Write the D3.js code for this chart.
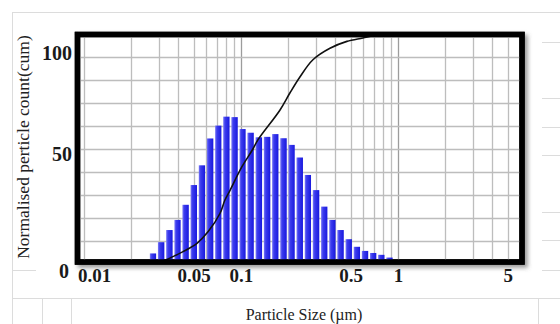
<!DOCTYPE html>
<html>
<head>
<meta charset="utf-8">
<script src="https://cdn.jsdelivr.net/npm/d3@7/dist/d3.min.js"></script>
<style>
  body { margin: 0; background: #fff; }
  svg { display: block; }
</style>
</head>
<body>
<div id="chart"></div>
<script>
// bin edges of the size histogram (um), one more than the bars
var sizeEdges = [0.0263, 0.0296, 0.0334, 0.0377, 0.0424, 0.0478, 0.0539, 0.0607, 0.0685, 0.0771,
                 0.0869, 0.098, 0.110, 0.124, 0.140, 0.158, 0.178, 0.201, 0.226, 0.255,
                 0.287, 0.324, 0.365, 0.411, 0.464, 0.523, 0.589, 0.664, 0.748, 0.843, 0.950];
// normalised count per bin
var counts = [4.6, 9.5, 14.8, 19.2, 25.8, 34.4, 43, 54.7, 60.3, 64.2,
              64, 58.8, 57.2, 55.2, 55.4, 56.6, 54.8, 51.9, 46.4, 38.8,
              32.2, 25, 19.2, 14.8, 10.8, 7.5, 5.7, 4.8, 4.0, 2.8];
// cumulative curve
var cumSize = [0.0305, 0.0338, 0.0428, 0.0525, 0.0617, 0.0735, 0.0791, 0.0851, 0.1015, 0.119,
               0.128, 0.177, 0.205, 0.2375, 0.2875, 0.369, 0.473, 0.598, 0.693, 0.768];
var cumPct = [0.5, 2, 5.4, 9, 14, 22, 27.9, 32, 42.4, 50,
              54, 67, 74.5, 81.5, 89, 94, 97, 98.5, 99.5, 100];
// tick labels
var xTicks = [0.01, 0.05, 0.1, 0.5, 1, 5];
var yTicks = [0, 50, 100];
var xGrid = [0.01, 0.02, 0.03, 0.04, 0.05, 0.06, 0.07, 0.08, 0.09,
             0.1, 0.2, 0.3, 0.4, 0.5, 0.6, 0.7, 0.8, 0.9,
             1, 2, 3, 4, 5, 6];
var yGrid = [10, 20, 30, 40, 50, 60, 70, 80, 90];

var W = 560, H = 324;
var box = {left: 77.5, top: 34.5, right: 522, bottom: 262};

var svg = d3.select("#chart").append("svg")
    .attr("width", W)
    .attr("height", H);

// page table lines behind the chart
var page = svg.append("g")
    .attr("stroke", "#dcdcdc")
    .attr("stroke-width", 1)
    .attr("fill", "none");
page.append("line").attr("x1", 12).attr("x2", W).attr("y1", 12.5).attr("y2", 12.5);
page.append("line").attr("x1", 12.5).attr("x2", 12.5).attr("y1", 12).attr("y2", H);
page.append("line").attr("x1", 12).attr("x2", W).attr("y1", 298.5).attr("y2", 298.5);
page.append("line").attr("x1", 42.5).attr("x2", 42.5).attr("y1", 298).attr("y2", H);
page.append("line").attr("x1", 71.5).attr("x2", 71.5).attr("y1", 298).attr("y2", H);
page.append("line").attr("x1", 538.5).attr("x2", 538.5).attr("y1", 298).attr("y2", H);
page.append("line").attr("x1", 12).attr("x2", 36).attr("y1", 270.5).attr("y2", 270.5);
[42, 98, 127, 155, 212, 240, 270].forEach(function(yy) {
    page.append("line").attr("x1", 542).attr("x2", W).attr("y1", yy + 0.5).attr("y2", yy + 0.5);
});

// scales
var x = d3.scaleLog().domain([0.0091, 6.17]).range([box.left, box.right]);
var y = d3.scaleLinear().domain([0, 100]).range([264, box.top]);

var defs = svg.append("defs");
var shadow = defs.append("filter").attr("id", "shadow")
    .attr("x", "-5%").attr("y", "-5%").attr("width", "115%").attr("height", "120%");
shadow.append("feDropShadow")
    .attr("dx", 3).attr("dy", 3).attr("stdDeviation", 2)
    .attr("flood-color", "#555").attr("flood-opacity", 0.6);

var grad = defs.append("linearGradient").attr("id", "barFill")
    .attr("x1", "0%").attr("x2", "100%").attr("y1", "0%").attr("y2", "0%");
grad.append("stop").attr("offset", "0%").attr("stop-color", "#7a7af6");
grad.append("stop").attr("offset", "30%").attr("stop-color", "#3c3cee");
grad.append("stop").attr("offset", "100%").attr("stop-color", "#1818de");

defs.append("clipPath").attr("id", "plotClip")
    .append("rect")
    .attr("x", box.left).attr("y", box.top)
    .attr("width", box.right - box.left).attr("height", box.bottom - box.top);

// white plot area with shadow
svg.append("rect")
    .attr("x", box.left).attr("y", box.top)
    .attr("width", box.right - box.left).attr("height", box.bottom - box.top)
    .attr("fill", "#fff")
    .attr("stroke", "#000")
    .attr("stroke-width", 5.5)
    .attr("filter", "url(#shadow)");

var plot = svg.append("g").attr("clip-path", "url(#plotClip)");

// grid
plot.selectAll(".vgrid")
    .data(xGrid)
    .enter().append("line")
    .attr("class", "vgrid")
    .attr("x1", function(d) { return Math.round(x(d)) + 0.5; })
    .attr("x2", function(d) { return Math.round(x(d)) + 0.5; })
    .attr("y1", box.top).attr("y2", box.bottom)
    .attr("stroke", function(d) { return (d === 0.1 || d === 1) ? "#9c9c9c" : "#bdbdbd"; })
    .attr("stroke-width", 1.3);

plot.selectAll(".hgrid")
    .data(yGrid)
    .enter().append("line")
    .attr("class", "hgrid")
    .attr("x1", box.left).attr("x2", box.right)
    .attr("y1", function(d) { return Math.round(y(d)) + 0.5; })
    .attr("y2", function(d) { return Math.round(y(d)) + 0.5; })
    .attr("stroke", "#bdbdbd")
    .attr("stroke-width", 1.3);

// histogram bars
plot.selectAll(".bar")
    .data(counts)
    .enter().append("rect")
    .attr("class", "bar")
    .attr("x", function(d, i) { return x(sizeEdges[i]); })
    .attr("width", function(d, i) { return x(sizeEdges[i + 1]) - x(sizeEdges[i]) - 1.8; })
    .attr("y", function(d) { return y(d); })
    .attr("height", function(d) { return y(0) - y(d); })
    .attr("fill", "url(#barFill)");

// cumulative curve
var line = d3.line()
    .x(function(d, i) { return x(cumSize[i]); })
    .y(function(d) { return y(d); })
    .curve(d3.curveCatmullRom.alpha(0.5));

plot.append("path")
    .datum(cumPct)
    .attr("d", line)
    .attr("fill", "none")
    .attr("stroke", "#111")
    .attr("stroke-width", 1.6);

// frame on top
svg.append("rect")
    .attr("x", box.left).attr("y", box.top)
    .attr("width", box.right - box.left).attr("height", box.bottom - box.top)
    .attr("fill", "none")
    .attr("stroke", "#000")
    .attr("stroke-width", 5.5);

// x tick labels
var xAxis = d3.axisBottom(x)
    .tickValues(xTicks)
    .tickSize(0)
    .tickFormat(d3.format("~g"));

var gx = svg.append("g")
    .attr("transform", "translate(0," + 266 + ")")
    .call(xAxis);
gx.select(".domain").remove();
gx.selectAll("text")
    .attr("dy", null)
    .attr("y", 16)
    .style("font-family", "'Liberation Serif', serif")
    .style("font-weight", "bold")
    .style("font-size", "19px")
    .attr("fill", "#1a1a1a");
// first label starts at the frame instead of centring on it
gx.selectAll(".tick").filter(function(d) { return d === xTicks[0]; })
    .select("text")
    .attr("text-anchor", "start")
    .attr("x", box.left - x(xTicks[0]));

// y tick labels (placed like the original labels, left of the frame)
var yLabel = d3.scaleLinear().domain([0, 50, 100]).range([271, 154, 53]);
svg.selectAll(".ylab")
    .data(yTicks)
    .enter().append("text")
    .attr("class", "ylab")
    .attr("x", function(d) { return d === 0 ? 69 : 72; })
    .attr("y", function(d) { return yLabel(d); })
    .attr("dy", "0.35em")
    .attr("text-anchor", "end")
    .style("font-family", "'Liberation Serif', serif")
    .style("font-weight", "bold")
    .style("font-size", "20px")
    .attr("fill", "#1a1a1a")
    .text(function(d) { return d; });

// axis titles
svg.append("text")
    .attr("transform", "translate(29,147) rotate(-90)")
    .attr("text-anchor", "middle")
    .style("font-family", "'Liberation Serif', serif")
    .style("font-size", "17.5px")
    .attr("fill", "#222")
    .text("Normalised perticle count(cum)");

svg.append("text")
    .attr("x", 304)
    .attr("y", 320)
    .attr("text-anchor", "middle")
    .style("font-family", "'Liberation Serif', serif")
    .style("font-size", "16px")
    .attr("fill", "#222")
    .text("Particle Size (\u00b5m)");
</script>
</body>
</html>
